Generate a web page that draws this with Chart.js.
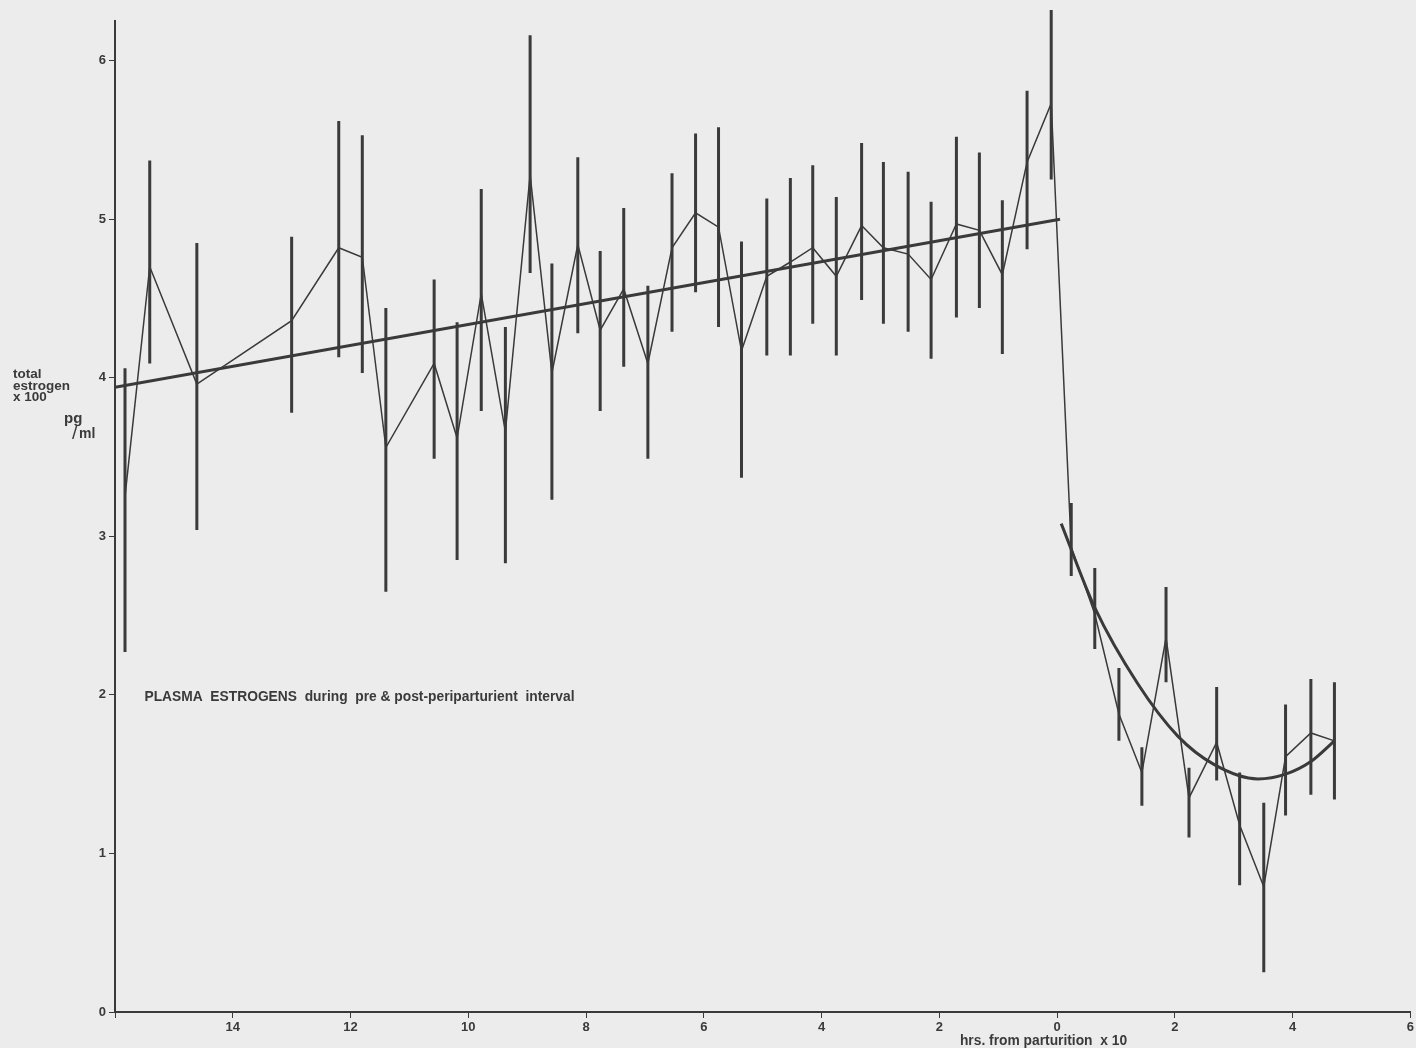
<!DOCTYPE html>
<html>
<head>
<meta charset="utf-8">
<script src="https://cdn.jsdelivr.net/npm/chart.js@4.4.1/dist/chart.umd.min.js"></script>
<style>
  html, body { margin: 0; padding: 0; background: #ececec; }
  #wrap { width: 1416px; height: 1048px; }
</style>
</head>
<body>
<div id="wrap"><canvas id="estrogen" width="1416" height="1048"></canvas></div>
<script>
// hours from parturition (x10), negative = before
const hours = [-15.83, -15.41, -14.61, -13.0, -12.2, -11.8, -11.4, -10.58, -10.19, -9.78, -9.37, -8.95,
  -8.58, -8.14, -7.76, -7.36, -6.95, -6.54, -6.14, -5.75, -5.36, -4.93, -4.53, -4.15, -3.75, -3.32,
  -2.95, -2.53, -2.14, -1.71, -1.32, -0.93, -0.51, -0.1,
  0.24, 0.64, 1.05, 1.44, 1.85, 2.24, 2.71, 3.10, 3.51, 3.88, 4.31, 4.71];
// total estrogen x100 pg/ml
const means = [3.25, 4.70, 3.96, 4.36, 4.82, 4.76, 3.56, 4.09, 3.62, 4.53, 3.66, 5.28,
  4.03, 4.84, 4.30, 4.56, 4.09, 4.82, 5.04, 4.95, 4.17, 4.64, 4.73, 4.82, 4.64, 4.96,
  4.82, 4.78, 4.62, 4.97, 4.93, 4.65, 5.36, 5.73,
  2.93, 2.51, 1.88, 1.51, 2.36, 1.35, 1.70, 1.18, 0.79, 1.61, 1.76, 1.71];
const upper = [4.06, 5.37, 4.85, 4.89, 5.62, 5.53, 4.44, 4.62, 4.35, 5.19, 4.32, 6.16,
  4.72, 5.39, 4.80, 5.07, 4.58, 5.29, 5.54, 5.58, 4.86, 5.13, 5.26, 5.34, 5.14, 5.48,
  5.36, 5.30, 5.11, 5.52, 5.42, 5.12, 5.81, 6.32,
  3.21, 2.80, 2.17, 1.67, 2.68, 1.54, 2.05, 1.51, 1.32, 1.94, 2.10, 2.08];
const lower = [2.27, 4.09, 3.04, 3.78, 4.13, 4.03, 2.65, 3.49, 2.85, 3.79, 2.83, 4.66,
  3.23, 4.28, 3.79, 4.07, 3.49, 4.29, 4.54, 4.32, 3.37, 4.14, 4.14, 4.34, 4.14, 4.49,
  4.34, 4.29, 4.12, 4.38, 4.44, 4.15, 4.81, 5.25,
  2.75, 2.29, 1.71, 1.30, 2.08, 1.10, 1.46, 0.80, 0.25, 1.24, 1.37, 1.34];

// fitted line before parturition
const trendX = [-16, 0.05];
const trendY = [3.94, 5.0];
// fitted curve after parturition
const curveX = [0.07, 0.64, 1.37, 2.05, 2.67, 3.41, 3.88, 4.31, 4.71];
const curveY = [3.08, 2.55, 2.07, 1.74, 1.56, 1.47, 1.50, 1.58, 1.71];

const xTicks = [-16, -14, -12, -10, -8, -6, -4, -2, 0, 2, 4, 6];

const ink = '#3a3a3a';
const tickFont = { family: 'Liberation Sans', size: 13, weight: 'bold' };

// vertical error bars as one broken line
const barPts = [];
hours.forEach((h, i) => {
  barPts.push({ x: h, y: lower[i] }, { x: h, y: upper[i] }, { x: h, y: null });
});

const labels = {
  id: 'labels',
  afterDraw(chart) {
    const ctx = chart.ctx;
    const xs = chart.scales.x, ys = chart.scales.y;
    ctx.save();
    ctx.fillStyle = ink;
    ctx.textBaseline = 'alphabetic';
    ctx.font = 'bold 13.5px "Liberation Sans"';
    ctx.fillText('total', 13, 378);
    ctx.fillText('estrogen', 13, 390);
    ctx.fillText('x 100', 13, 401);
    ctx.font = 'bold 15px "Liberation Sans"';
    ctx.fillText('pg', 64, 423);
    ctx.font = '19px "Liberation Sans"';
    ctx.fillText('/', 72, 439);
    ctx.font = 'bold 14px "Liberation Sans"';
    ctx.fillText('ml', 79, 438);

    ctx.font = 'bold 13.8px "Liberation Sans"';
    ctx.fillText('PLASMA  ESTROGENS  during  pre & post-periparturient  interval',
      xs.getPixelForValue(-15.5), ys.getPixelForValue(1.96));

    ctx.font = 'bold 13.8px "Liberation Sans"';
    ctx.fillText('hrs. from parturition  x 10', xs.getPixelForValue(-1.65), 1045);
    ctx.restore();
  }
};

new Chart(document.getElementById('estrogen'), {
  type: 'line',
  data: {
    datasets: [
      {
        data: barPts,
        borderColor: ink,
        borderWidth: 3,
        pointRadius: 0,
        spanGaps: false,
        clip: false
      },
      {
        data: hours.map((h, i) => ({ x: h, y: means[i] })),
        borderColor: ink,
        borderWidth: 1.5,
        pointRadius: 0
      },
      {
        data: trendX.map((h, i) => ({ x: h, y: trendY[i] })),
        borderColor: ink,
        borderWidth: 3,
        pointRadius: 0
      },
      {
        data: curveX.map((h, i) => ({ x: h, y: curveY[i] })),
        borderColor: ink,
        borderWidth: 3,
        pointRadius: 0,
        cubicInterpolationMode: 'monotone'
      }
    ]
  },
  options: {
    responsive: false,
    animation: false,
    layout: { padding: { top: 21, right: 4, left: 0, bottom: 0 } },
    plugins: {
      legend: { display: false },
      tooltip: { enabled: false }
    },
    scales: {
      x: {
        type: 'linear',
        min: -16,
        max: 6,
        afterBuildTicks: (scale) => { scale.ticks = xTicks.map(v => ({ value: v })); },
        afterFit: (scale) => { scale.height = 36; },
        ticks: {
          color: ink,
          font: tickFont,
          padding: 2,
          maxRotation: 0,
          callback: (v) => (v === -16 ? '' : String(Math.abs(v)))
        },
        grid: { drawOnChartArea: false, tickLength: 6, color: ink, lineWidth: 1 },
        border: { color: ink, width: 2 }
      },
      y: {
        min: 0,
        max: 6.25,
        afterFit: (scale) => { scale.width = 115; },
        ticks: {
          stepSize: 1,
          includeBounds: false,
          color: ink,
          font: tickFont,
          padding: 3
        },
        grid: { drawOnChartArea: false, tickLength: 6, color: ink, lineWidth: 1 },
        border: { color: ink, width: 2 }
      }
    }
  },
  plugins: [labels]
});
</script>
</body>
</html>
